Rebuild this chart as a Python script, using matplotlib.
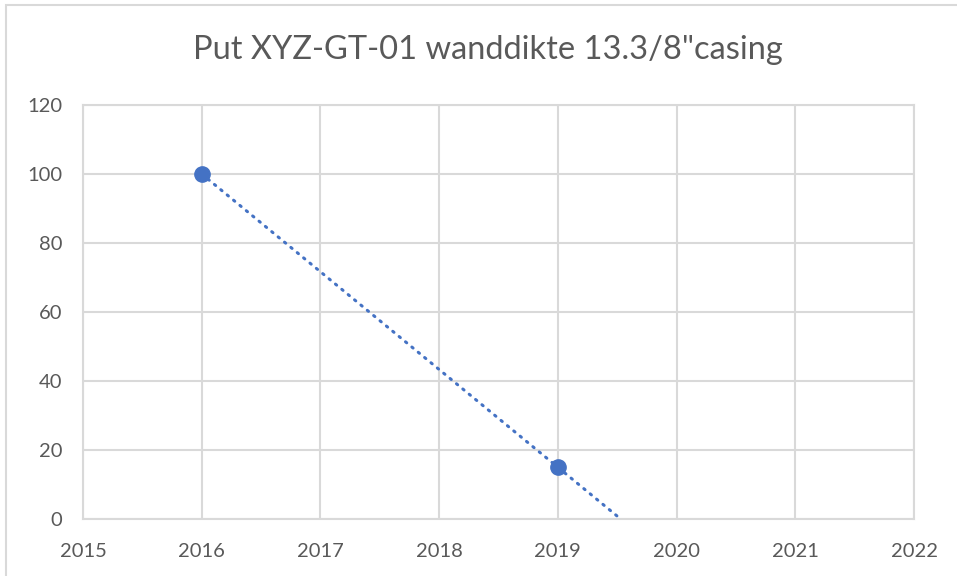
import matplotlib.pyplot as plt
import numpy as np
from matplotlib.patches import Rectangle

# data
years = [2016, 2019]
thickness = [100, 15]
x_ticks = [2015, 2016, 2017, 2018, 2019, 2020, 2021, 2022]
y_ticks = [0, 20, 40, 60, 80, 100, 120]
title = 'Put XYZ-GT-01 wanddikte 13.3/8"casing'

grid_col = '#D9D9D9'
text_col = '#595959'
blue = '#4472C4'

plt.rcParams['font.family'] = ['Lato', 'DejaVu Sans']

fig = plt.figure(figsize=(9.57, 5.76), dpi=100)
ax = fig.add_axes([83 / 957, 1 - 519 / 576, (914 - 83) / 957, (519 - 105) / 576])

# chart border (cropped at the right and bottom)
fig.patches.append(Rectangle((6 / 957, -0.1), 1.2, 1 - 5 / 576 + 0.1,
                             transform=fig.transFigure, fill=False,
                             edgecolor=grid_col, linewidth=1.5))

# linear trendline down to zero, like Excel
slope, icpt = np.polyfit(years, thickness, 1)
x_end = -icpt / slope
xt = np.array([years[0], x_end])
ax.plot(xt, slope * xt + icpt, color=blue, linestyle=(0, (0.5, 2.2)),
        linewidth=2.2, dash_capstyle='round', zorder=3)

ax.plot(years, thickness, 'o', color=blue, markersize=11, zorder=4)

ax.set_xlim(2015, 2022)
ax.set_ylim(0, 120)
ax.set_xticks(x_ticks)
ax.set_yticks(y_ticks)
ax.grid(True, color=grid_col, linewidth=1.5)
ax.set_axisbelow(True)
for s in ax.spines.values():
    s.set_color(grid_col)
    s.set_linewidth(1.5)
ax.tick_params(length=0, labelsize=14.5, colors=text_col)
ax.tick_params(axis='y', pad=15)
ax.tick_params(axis='x', pad=17)

fig.text(488 / 957, 1 - 50 / 576, title, ha='center', va='center',
         fontsize=23.5, color=text_col)

fig.savefig('out.png', dpi=100)
